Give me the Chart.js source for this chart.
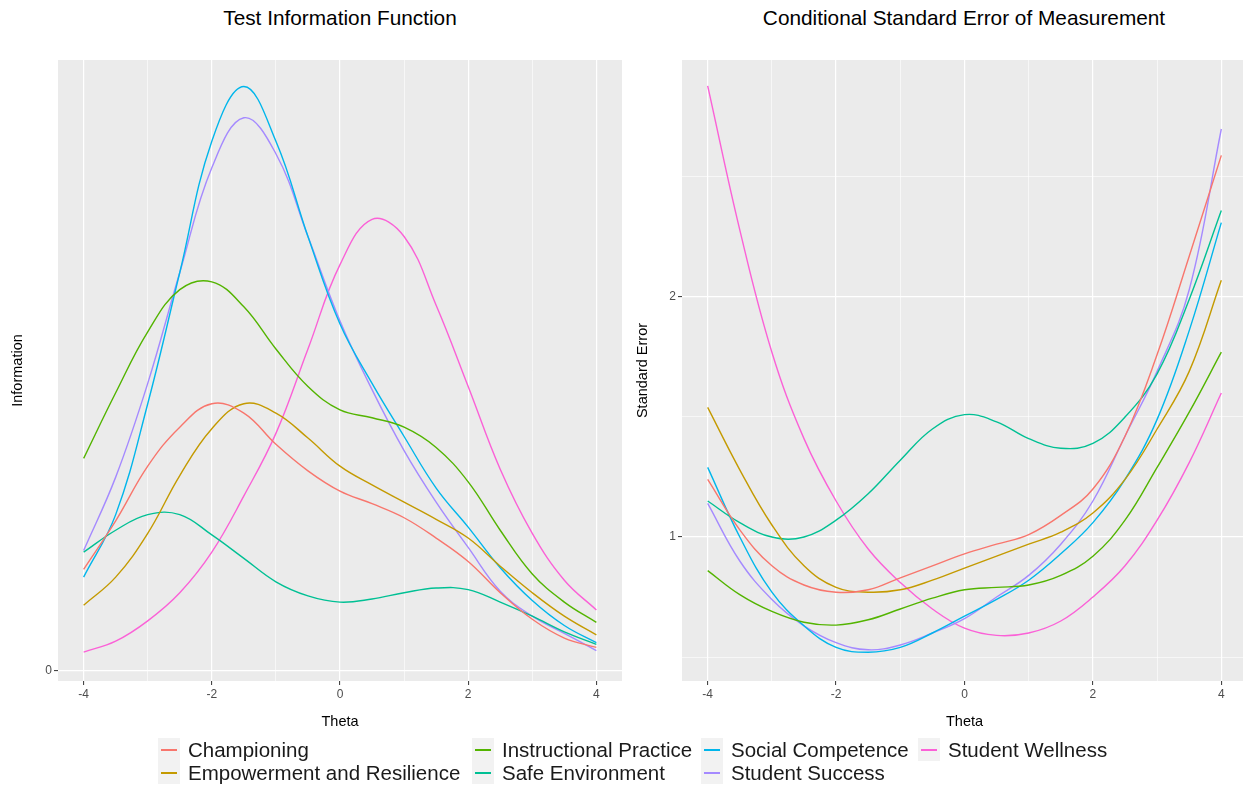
<!DOCTYPE html>
<html>
<head>
<meta charset="utf-8">
<script src="https://cdn.jsdelivr.net/npm/chart.js@4.4.0/dist/chart.umd.min.js"></script>
<style>
  body { margin: 0; background: #fff; font-family: "Liberation Sans", Arial, sans-serif; }
  #wrap { position: relative; width: 1243px; height: 788px; overflow: hidden; }
  canvas { position: absolute; top: 0; }
  .title { position: absolute; top: 6px; font-size: 20.8px; line-height: 24px; color: #000; transform: translateX(-50%); white-space: nowrap; }
  .key { position: absolute; width: 22px; height: 23px; background: #F2F2F2; }
  .key span { position: absolute; left: 3px; right: 3px; top: 11px; height: 2px; }
  .lab { position: absolute; font-size: 20.5px; line-height: 23px; color: #1A1A1A; white-space: nowrap; }
</style>
</head>
<body>
<div id="wrap">
  <div class="title" style="left:340px">Test Information Function</div>
  <div class="title" style="left:964px">Conditional Standard Error of Measurement</div>
  <canvas id="infoChart" width="630" height="745" style="left:0"></canvas>
  <canvas id="seChart" width="623" height="745" style="left:624px"></canvas>
  <div id="legend"></div>
</div>
<script>
// theta grid the curves were read at
const theta = [-4, -3.5, -3, -2.5, -2, -1.5, -1, -0.5, 0, 0.5, 1, 1.5, 2, 2.5, 3, 3.5, 4];

const seriesNames = ["Championing", "Empowerment and Resilience", "Instructional Practice",
  "Safe Environment", "Social Competence", "Student Success", "Student Wellness"];
const seriesColors = ["#F8766D", "#C49A00", "#53B400", "#00C094", "#00B6EB", "#A58AFF", "#FB61D7"];

// test information (left panel)
const championingInfo   = [0.65, 0.96, 1.31, 1.56, 1.71, 1.65, 1.45, 1.28, 1.15, 1.07, 0.98, 0.85, 0.70, 0.50, 0.33, 0.21, 0.15];
const empowermentInfo   = [0.42, 0.60, 0.88, 1.25, 1.55, 1.71, 1.65, 1.49, 1.31, 1.19, 1.08, 0.97, 0.85, 0.67, 0.50, 0.35, 0.23];
const instructionalInfo = [1.36, 1.78, 2.17, 2.44, 2.49, 2.33, 2.06, 1.82, 1.67, 1.62, 1.56, 1.43, 1.21, 0.90, 0.62, 0.44, 0.31];
const safeInfo          = [0.76, 0.90, 1.00, 1.00, 0.87, 0.72, 0.57, 0.48, 0.44, 0.46, 0.50, 0.53, 0.52, 0.44, 0.35, 0.25, 0.17];
const socialInfo        = [0.60, 1.00, 1.71, 2.55, 3.39, 3.74, 3.39, 2.78, 2.22, 1.84, 1.50, 1.17, 0.92, 0.66, 0.45, 0.29, 0.18];
const successInfo       = [0.77, 1.24, 1.84, 2.55, 3.22, 3.54, 3.31, 2.78, 2.24, 1.80, 1.41, 1.08, 0.79, 0.51, 0.35, 0.24, 0.13];
const wellnessInfo      = [0.12, 0.19, 0.32, 0.50, 0.76, 1.12, 1.52, 2.06, 2.60, 2.89, 2.78, 2.34, 1.82, 1.29, 0.88, 0.58, 0.39];

// conditional standard error (right panel)
const championingSE   = [1.24, 1.03, 0.88, 0.80, 0.77, 0.78, 0.83, 0.88, 0.93, 0.97, 1.01, 1.09, 1.20, 1.42, 1.76, 2.17, 2.59];
const empowermentSE   = [1.54, 1.28, 1.05, 0.88, 0.79, 0.77, 0.78, 0.82, 0.87, 0.92, 0.97, 1.02, 1.10, 1.24, 1.45, 1.69, 2.07];
const instructionalSE = [0.86, 0.76, 0.69, 0.645, 0.633, 0.655, 0.70, 0.745, 0.78, 0.79, 0.80, 0.84, 0.92, 1.07, 1.29, 1.52, 1.77];
const safeSE          = [1.15, 1.06, 1.00, 1.00, 1.07, 1.18, 1.32, 1.45, 1.51, 1.48, 1.41, 1.37, 1.39, 1.50, 1.68, 1.99, 2.36];
const socialSE        = [1.29, 1.00, 0.77, 0.63, 0.54, 0.52, 0.54, 0.60, 0.67, 0.74, 0.82, 0.93, 1.06, 1.24, 1.49, 1.86, 2.31];
const successSE       = [1.14, 0.90, 0.74, 0.63, 0.56, 0.53, 0.55, 0.60, 0.66, 0.75, 0.84, 0.97, 1.15, 1.42, 1.69, 2.03, 2.70];
const wellnessSE      = [2.88, 2.28, 1.77, 1.41, 1.15, 0.95, 0.81, 0.70, 0.62, 0.59, 0.60, 0.65, 0.75, 0.88, 1.07, 1.31, 1.60];

const infoSeries = [championingInfo, empowermentInfo, instructionalInfo, safeInfo, socialInfo, successInfo, wellnessInfo];
const seSeries = [championingSE, empowermentSE, instructionalSE, safeSE, socialSE, successSE, wellnessSE];

// ticks: labelled (major) and unlabelled (minor grid only)
const xMajor = [-4, -2, 0, 2, 4];
const xMinor = [-3, -1, 1, 3];
const infoMajor = [0];
const infoMinor = [];
const seMajor = [1, 2];
const seMinor = [0.5, 1.5, 2.5];

const panelBg = {
  id: 'panelBg',
  beforeDraw(chart) {
    const { ctx, chartArea: a } = chart;
    ctx.save();
    ctx.fillStyle = '#EBEBEB';
    ctx.fillRect(a.left, a.top, a.right - a.left, a.bottom - a.top);
    ctx.restore();
  }
};

function axisGrid(major) {
  return {
    color: '#FFFFFF',
    lineWidth: c => major.includes(c.tick.value) ? 1.2 : 0.6,
    tickColor: c => major.includes(c.tick.value) ? '#333333' : 'rgba(0,0,0,0)',
    tickLength: 4,
    tickWidth: 1
  };
}

function makeChart(id, series, yMin, yMax, yMajor, yMinor, yTitle, yTitlePad, padRight) {
  const datasets = series.map((vals, i) => ({
    label: seriesNames[i],
    data: vals.map((v, j) => ({ x: theta[j], y: v })),
    borderColor: seriesColors[i],
    borderWidth: 1.4,
    pointRadius: 0,
    tension: 0.4,
    fill: false
  }));
  const tickFont = { family: '"Liberation Sans", Arial, sans-serif', size: 12 };
  const titleFont = { family: '"Liberation Sans", Arial, sans-serif', size: 14.5 };
  return new Chart(document.getElementById(id), {
    type: 'line',
    data: { datasets },
    plugins: [panelBg],
    options: {
      responsive: false,
      devicePixelRatio: 1,
      animation: false,
      layout: { padding: { top: 60, right: padRight, left: 0, bottom: 0 } },
      plugins: { legend: { display: false }, tooltip: { enabled: false } },
      scales: {
        x: {
          type: 'linear',
          min: -4.4, max: 4.4,
          afterBuildTicks: s => { s.ticks = xMajor.concat(xMinor).sort((a, b) => a - b).map(v => ({ value: v })); },
          afterFit: s => { s.height = 64; },
          ticks: {
            autoSkip: false, maxRotation: 0, padding: 2, color: '#4D4D4D', font: tickFont,
            callback: v => xMajor.includes(v) ? String(v) : ''
          },
          grid: axisGrid(xMajor),
          border: { display: false },
          title: { display: true, text: 'Theta', color: '#000', font: titleFont, padding: { top: 0, bottom: 14 } }
        },
        y: {
          type: 'linear',
          min: yMin, max: yMax,
          afterBuildTicks: s => { s.ticks = yMajor.concat(yMinor).sort((a, b) => a - b).map(v => ({ value: v })); },
          afterFit: s => { s.width = 58; },
          ticks: {
            autoSkip: false, padding: 2, color: '#4D4D4D', font: tickFont,
            callback: v => yMajor.includes(v) ? String(v) : ''
          },
          grid: axisGrid(yMajor),
          border: { display: false },
          title: { display: true, text: yTitle, color: '#000', font: titleFont, padding: { top: yTitlePad, bottom: 0 } }
        }
      }
    }
  });
}

makeChart('infoChart', infoSeries, -0.065, 3.91, infoMajor, infoMinor, 'Information', 9, 8);
makeChart('seChart', seSeries, 0.4, 2.9875, seMajor, seMinor, 'Standard Error', 10, 0);

// ggplot-style legend, filled column by column (2 rows)
const legendCols = [158, 472, 701, 918];
const legend = document.getElementById('legend');
seriesNames.forEach((name, i) => {
  const col = Math.floor(i / 2), row = i % 2;
  const key = document.createElement('div');
  key.className = 'key';
  key.style.left = legendCols[col] + 'px';
  key.style.top = (738 + row * 23) + 'px';
  key.innerHTML = '<span style="background:' + seriesColors[i] + '"></span>';
  legend.appendChild(key);
  const lab = document.createElement('div');
  lab.className = 'lab';
  lab.style.left = (legendCols[col] + 30) + 'px';
  lab.style.top = (738 + row * 23) + 'px';
  lab.textContent = name;
  legend.appendChild(lab);
});
</script>
</body>
</html>
